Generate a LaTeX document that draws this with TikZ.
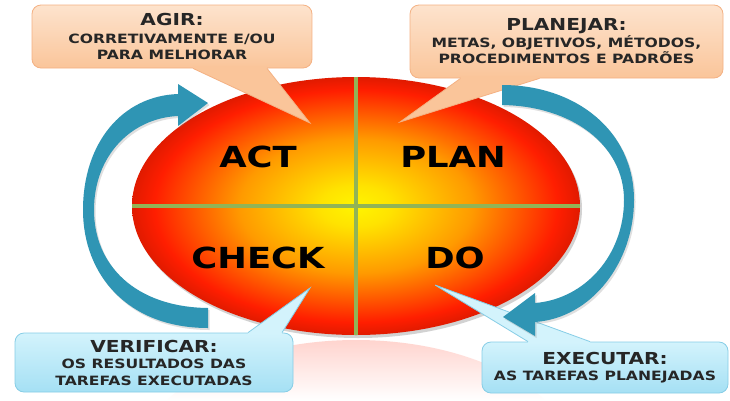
\documentclass[tikz,border=0pt]{standalone}
\usepackage{fontspec}
\newfontfamily\pdcafont[FakeStretch=1.22]{DejaVu Sans}
\usetikzlibrary{shapes.geometric,shadows,fadings,calc}

\definecolor{pdcared}{HTML}{FF1E00}
\definecolor{pdcaorange}{HTML}{FF9A00}
\definecolor{pdcayellow}{HTML}{FFF500}
\definecolor{linegreen}{HTML}{92B456}
\definecolor{arrowblue}{HTML}{2F95B4}
\definecolor{peachtop}{HTML}{FDE3CD}
\definecolor{peachbot}{HTML}{FAC59A}
\definecolor{peachline}{HTML}{F4B183}
\definecolor{cyantop}{HTML}{D3F3FC}
\definecolor{cyanbot}{HTML}{A5E0F4}
\definecolor{cyanline}{HTML}{86CDE6}

\pgfdeclareradialshading{pdcaglow}{\pgfpoint{0bp}{0bp}}{color(0bp)=(pdcayellow); color(4bp)=(pdcayellow!80!pdcaorange); color(13bp)=(pdcaorange); color(22.5bp)=(pdcared); color(25bp)=(pdcared!88!black); color(50bp)=(pdcared!88!black)}
\tikzfading[name=fadedown, top color=transparent!0, bottom color=transparent!100]

\newcommand\titlefont{\pdcafont\bfseries\fontsize{16.5}{16.5}\selectfont}
\newcommand\subfont{\pdcafont\bfseries\fontsize{12.8}{16.5}\selectfont}

\tikzset{
  quadlabel/.style={font=\pdcafont\bfseries\fontsize{29}{29}\selectfont, text=black, inner sep=0pt},
  divider/.style={draw=linegreen, line width=3.5pt},
  peachbox/.style={rectangle, rounded corners=9pt, draw=peachline, line width=0.8pt,
    top color=peachtop, bottom color=peachbot, align=center, text=black!85, inner sep=0pt, font=\subfont},
  cyanbox/.style={rectangle, rounded corners=9pt, draw=cyanline, line width=0.8pt,
    top color=cyantop, bottom color=cyanbot, align=center, text=black!85, inner sep=0pt, font=\subfont},
  cyclearrow/.style={fill=arrowblue, drop shadow={opacity=0.25, shadow xshift=1.5pt, shadow yshift=-2pt}}
}

\begin{document}
\begin{tikzpicture}[x=1pt,y=-1pt]
\useasboundingbox (0,0) rectangle (730,400);
\fill[white] (0,0) rectangle (730,400);

% the cycle
\node[ellipse, minimum width=448pt, minimum height=258pt, inner sep=0pt, shading=pdcaglow,
  drop shadow={opacity=0.35, shadow xshift=2pt, shadow yshift=-3pt}] (pdca) at (356,206) {};
\draw[divider] (pdca.north) -- (pdca.south);
\draw[divider] (pdca.west) -- (pdca.east);

% reflection
\begin{scope}
\clip (356,469) ellipse [x radius=224, y radius=129];
\fill[pdcared!55, path fading=fadedown, fill opacity=0.35] (130,339) rectangle (585,400);
\end{scope}

\node[quadlabel] (act) at (258,157) {ACT};
\node[quadlabel] (plan) at (453,157) {PLAN};
\node[quadlabel] (check) at (258,258) {CHECK};
\node[quadlabel] (do) at (455,258) {DO};

% callouts
\node[peachbox, minimum width=280pt, minimum height=63pt] (agir) at (172,36.5)
  {{\titlefont AGIR:}\\[1pt]CORRETIVAMENTE E/OU\\PARA MELHORAR};
\node[peachbox, minimum width=313pt, minimum height=73pt] (planejar) at (566.5,41.5)
  {{\titlefont PLANEJAR:}\\METAS, OBJETIVOS, MÉTODOS,\\PROCEDIMENTOS E PADRÕES};
\node[cyanbox, minimum width=278pt, minimum height=59pt] (verificar) at (154,362.5)
  {{\titlefont VERIFICAR:}\\OS RESULTADOS DAS\\TAREFAS EXECUTADAS};
\node[cyanbox, minimum width=246pt, minimum height=51pt] (executar) at (605,367.5)
  {{\titlefont EXECUTAR:}\\AS TAREFAS PLANEJADAS};

\coordinate (agirtip) at (310,123);
\coordinate (planejartip) at (400,122);
\coordinate (verificartip) at (310,288);
\coordinate (executartip) at (435,285);

\fill[peachbot] ($(agir.south)+(21,-2)$) -- ($(agir.south)+(21,0)$) -- (agirtip)
  -- ($(agir.south)+(95,0)$) -- ($(agir.south)+(95,-2)$) -- cycle;
\draw[peachline, line width=0.8pt] ($(agir.south)+(21,0)$) -- (agirtip) -- ($(agir.south)+(95,0)$);
\fill[peachbot] ($(planejar.south)+(-106,-2)$) -- ($(planejar.south)+(-106,0)$) -- (planejartip)
  -- ($(planejar.south)+(-27,0)$) -- ($(planejar.south)+(-27,-2)$) -- cycle;
\draw[peachline, line width=0.8pt] ($(planejar.south)+(-106,0)$) -- (planejartip) -- ($(planejar.south)+(-27,0)$);
\fill[cyantop] ($(verificar.north)+(94,2)$) -- ($(verificar.north)+(94,0)$) -- (verificartip)
  -- ($(verificar.north)+(128,0)$) -- ($(verificar.north)+(128,2)$) -- cycle;
\draw[cyanline, line width=0.8pt] ($(verificar.north)+(94,0)$) -- (verificartip) -- ($(verificar.north)+(128,0)$);
\fill[cyantop] ($(executar.north)+(-77,2)$) -- ($(executar.north)+(-77,0)$) -- (executartip)
  -- ($(executar.north)+(-15,0)$) -- ($(executar.north)+(-15,2)$) -- cycle;
\draw[cyanline, line width=0.8pt] ($(executar.north)+(-77,0)$) -- (executartip) -- ($(executar.north)+(-15,0)$);

% turning arrows
\fill[cyclearrow] (502,85) .. controls (575,85) and (634,130) .. (634,200)
  .. controls (634,262) and (592,318) .. (535,322) -- (535,336) -- (503,317) -- (535,293) -- (535,303)
  .. controls (585,299) and (624,255) .. (624,200) .. controls (624,145) and (572,106) .. (502,105) -- cycle;
\fill[cyclearrow] (208,328) .. controls (128,328) and (83,275) .. (83,210)
  .. controls (83,143) and (122,96) .. (178,94) -- (178,84) -- (208,103) -- (178,126) -- (178,116)
  .. controls (132,118) and (94,155) .. (94,210) .. controls (94,265) and (135,307) .. (208,308) -- cycle;
\end{tikzpicture}
\end{document}
